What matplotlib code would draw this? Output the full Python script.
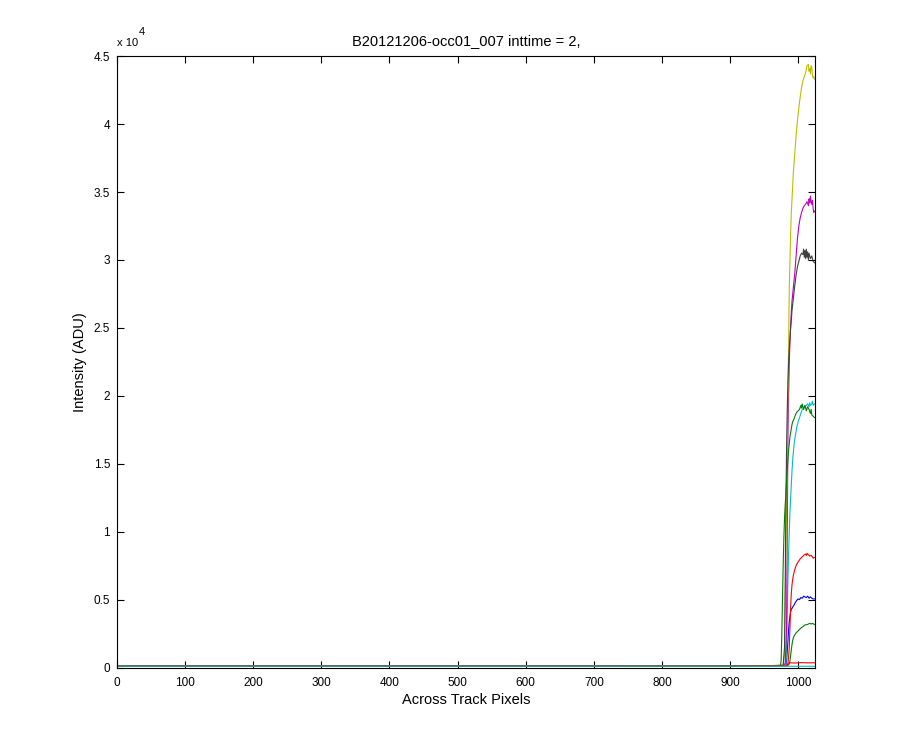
import matplotlib
matplotlib.use("Agg")
import matplotlib.pyplot as plt
from matplotlib.ticker import FuncFormatter

plt.rcParams['font.family'] = ['Liberation Sans', 'DejaVu Sans']

title = "B20121206-occ01_007 inttime = 2,"
xlabel = "Across Track Pixels"
ylabel = "Intensity (ADU)"

# series 1: blue
blue_x = [0, 300, 600, 900, 982, 983, 984, 985, 986, 987, 988, 989, 990, 991, 992, 994, 996, 998, 1000, 1002, 1004, 1006, 1008, 1010, 1012, 1014, 1016, 1018, 1020, 1022, 1024]
blue_y = [100, 100, 100, 110, 150, 500, 1200, 2000, 2800, 3400, 3800, 4100, 4300, 4350, 4450, 4600, 4800, 4950, 5050, 5000, 5150, 5100, 5250, 5200, 5150, 5250, 5100, 5200, 5100, 5050, 5050]
# series 2: green (small)
green1_x = [0, 300, 600, 900, 984, 986, 987, 988, 989, 990, 991, 992, 993, 995, 997, 999, 1001, 1003, 1005, 1007, 1009, 1011, 1013, 1015, 1017, 1019, 1021, 1023, 1024]
green1_y = [100, 100, 100, 110, 150, 200, 300, 500, 900, 1300, 1700, 2000, 2200, 2400, 2550, 2650, 2750, 2850, 2950, 3000, 3100, 3150, 3150, 3200, 3250, 3200, 3250, 3200, 3150]
# series 3: red
red1_x = [0, 300, 600, 900, 983, 985, 986, 987, 988, 989, 990, 991, 992, 993, 994, 995, 997, 999, 1001, 1003, 1005, 1007, 1009, 1011, 1012, 1013, 1015, 1017, 1019, 1021, 1022, 1024]
red1_y = [100, 100, 100, 110, 150, 300, 800, 1500, 3000, 4500, 5500, 6100, 6500, 6800, 7000, 7200, 7500, 7700, 7850, 8000, 8100, 8200, 8300, 8350, 8250, 8400, 8300, 8200, 8250, 8150, 8050, 8100]
# series 4: cyan
cyan1_x = [0, 300, 600, 900, 980, 982, 983, 984, 985, 986, 987, 988, 989, 990, 991, 992, 993, 994, 995, 996, 997, 998, 999, 1000, 1002, 1004, 1006, 1008, 1010, 1012, 1014, 1016, 1017, 1018, 1020, 1021, 1022, 1024]
cyan1_y = [100, 100, 100, 110, 150, 300, 1500, 4000, 6500, 8500, 10000, 11500, 12500, 13500, 14500, 15300, 15900, 16400, 16800, 17100, 17400, 17700, 17900, 18100, 18400, 18700, 19000, 19100, 19200, 19300, 19400, 19200, 19500, 19300, 19400, 19600, 19300, 19400]
# series 5: magenta
mag_x = [0, 300, 600, 900, 978, 981, 983, 984, 985, 986, 987, 988, 989, 990, 991, 993, 995, 997, 999, 1001, 1003, 1005, 1007, 1009, 1011, 1013, 1015, 1016, 1017, 1018, 1019, 1020, 1021, 1022, 1023, 1024]
mag_y = [100, 100, 100, 110, 150, 300, 3000, 10000, 17000, 20000, 22500, 24000, 25200, 26200, 27000, 28000, 29000, 30300, 31600, 32500, 33100, 33500, 33800, 34000, 34100, 34300, 34000, 34500, 34200, 34700, 34300, 34100, 34400, 33800, 33500, 33600]
# series 6: yellow
yel_x = [0, 300, 600, 900, 975, 978, 980, 981, 983, 985, 986, 987, 988, 989, 990, 991, 992, 993, 995, 997, 999, 1001, 1003, 1005, 1007, 1009, 1011, 1013, 1015, 1016, 1017, 1018, 1019, 1020, 1021, 1022, 1023, 1024]
yel_y = [100, 100, 100, 110, 150, 200, 1000, 5000, 12000, 20000, 24000, 28000, 30000, 32000, 33500, 34500, 35500, 36500, 37800, 39200, 40300, 41200, 42000, 42700, 43200, 43500, 43800, 44300, 44400, 43900, 44100, 43700, 44300, 44200, 43600, 43400, 43500, 43300]
# series 7: dark grey
gray_x = [0, 300, 600, 900, 978, 980, 981, 982, 983, 984, 985, 986, 987, 988, 989, 990, 991, 993, 995, 997, 999, 1001, 1003, 1005, 1007, 1008, 1009, 1010, 1011, 1012, 1013, 1014, 1015, 1016, 1018, 1020, 1022, 1024]
gray_y = [100, 100, 100, 110, 150, 1500, 6000, 12000, 16000, 19000, 21000, 22500, 23500, 24300, 25000, 25600, 26300, 27200, 28100, 28900, 29500, 29900, 30300, 30500, 30400, 30800, 30200, 30700, 30100, 30800, 30200, 30600, 30000, 30500, 30100, 30300, 29900, 29800]
# series 8: green (large)
green2_x = [0, 300, 600, 900, 974, 975, 976, 977, 978, 979, 980, 981, 982, 983, 984, 985, 986, 987, 988, 989, 990, 991, 992, 994, 996, 998, 1000, 1002, 1004, 1005, 1006, 1008, 1010, 1012, 1014, 1016, 1018, 1019, 1020, 1022, 1024]
green2_y = [100, 100, 100, 110, 150, 500, 2500, 5000, 7500, 9500, 11000, 12000, 12800, 13800, 14500, 15300, 16000, 16500, 17000, 17300, 17600, 17900, 18100, 18300, 18600, 18800, 18900, 19000, 19300, 19100, 19400, 19000, 19300, 18900, 19200, 19000, 18700, 19000, 18600, 18500, 18400]
# series 9: red (near zero)
red2_x = [0, 300, 600, 900, 984, 986, 987, 995, 1005, 1015, 1024]
red2_y = [100, 100, 100, 110, 120, 250, 350, 330, 360, 340, 350]
# series 10: cyan (flat)
cyan2_x = [0, 300, 600, 900, 1000, 1024]
cyan2_y = [100, 100, 100, 100, 90, 90]

series = [
    (blue_x, blue_y, (0, 0, 1)),
    (green1_x, green1_y, (0, 0.5, 0)),
    (red1_x, red1_y, (1, 0, 0)),
    (cyan1_x, cyan1_y, (0, 0.75, 0.75)),
    (mag_x, mag_y, (0.75, 0, 0.75)),
    (yel_x, yel_y, (0.75, 0.75, 0)),
    (gray_x, gray_y, (0.25, 0.25, 0.25)),
    (green2_x, green2_y, (0, 0.5, 0)),
    (red2_x, red2_y, (1, 0, 0)),
    (cyan2_x, cyan2_y, (0, 0.75, 0.75)),
]

fig = plt.figure(figsize=(9, 7.5), dpi=100)
ax = fig.add_axes([0.13, 0.11, 0.775, 0.815])
for xs, ys, c in series:
    ax.plot(xs, ys, color=c, lw=0.8)

ax.set_xlim(0, 1024)
ax.set_ylim(0, 45000)
ax.set_xticks(range(0, 1001, 100))
ax.set_yticks(range(0, 45001, 5000))
ax.yaxis.set_major_formatter(FuncFormatter(lambda v, p: "%g" % (v / 1e4)))
ax.tick_params(direction='in', length=5, width=0.8, labelsize=8.5, top=True, right=True)
ax.tick_params(axis='x', pad=6.5)
ax.tick_params(axis='y', pad=5)
for s in ax.spines.values():
    s.set_linewidth(0.8)

ax.set_title(title, fontsize=10.5, pad=8)
ax.set_xlabel(xlabel, fontsize=10.5, labelpad=3)
ax.set_ylabel(ylabel, fontsize=10.5, labelpad=5)

fig.text(117 / 900, 1 - 43.5 / 750, "x 10", fontsize=8, ha='left', va='center')
fig.text(139 / 900, 1 - 32 / 750, "4", fontsize=8, ha='left', va='center')

fig.savefig("out.png", dpi=100, facecolor='white')
